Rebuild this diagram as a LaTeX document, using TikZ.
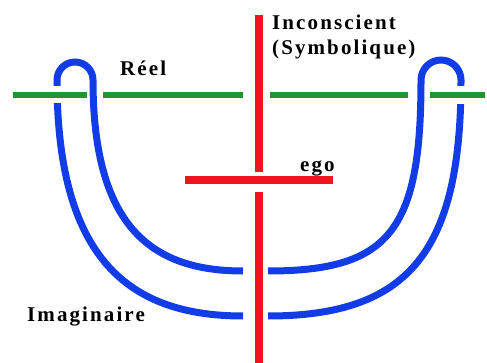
\documentclass[tikz,border=0pt]{standalone}
\usepackage{fontspec}
\setmainfont{Liberation Serif}[LetterSpace=10]
\definecolor{lacanblue}{RGB}{18,60,232}
\definecolor{lacangreen}{RGB}{30,150,45}
\definecolor{lacanred}{RGB}{240,20,30}
\begin{document}
\begin{tikzpicture}[x=1pt,y=-1pt,
  blueline/.style={draw=lacanblue, line width=7pt},
  greenline/.style={draw=lacangreen, line width=6pt},
  redline/.style={draw=lacanred, line width=8pt},
  gapfill/.style={fill=white},
  lbl/.style={font=\bfseries\fontsize{21}{24}\selectfont, inner sep=0pt}]
\useasboundingbox (0,0) rectangle (487,363);
% blue curves
\draw[blueline] (243,316) .. controls (130,316) and (57,260) .. (57,80)
  arc[start angle=180, end angle=360, radius=18]
  .. controls (93,225) and (150,271) .. (243,271);
\draw[blueline] (268,316) .. controls (410,316) and (461,250) .. (461,80)
  arc[start angle=0, end angle=-180, radius=20]
  .. controls (421,230) and (390,271) .. (268,271);
% gaps in outer legs
\fill[gapfill] (50,86) rectangle (64,103);
\fill[gapfill] (454,86) rectangle (468,104);
% green line
\draw[greenline] (13,95) -- (87,95);
\draw[greenline] (103,95) -- (243,95);
\draw[greenline] (270,95) -- (408,95);
\draw[greenline] (430,95) -- (485,95);
% red lines
\draw[redline] (259,15) -- (259,172);
\draw[redline] (259,192) -- (259,363);
\draw[redline] (185,180.5) -- (333,180.5);
% labels
\node[lbl, anchor=base west] (inc) at (272,30) {Inconscient};
\node[lbl, anchor=base west] (sym) at (272,55) {(Symbolique)};
\node[lbl, anchor=base west] (reel) at (120,76) {Réel};
\node[lbl, anchor=base west] (ego) at (300,172) {ego};
\node[lbl, anchor=base west] (imag) at (27,321) {Imaginaire};
\end{tikzpicture}
\end{document}
